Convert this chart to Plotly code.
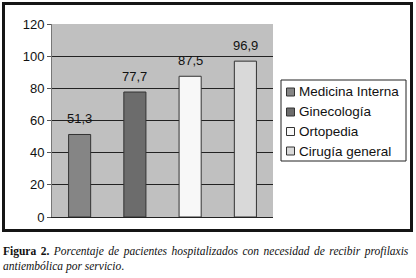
import plotly.graph_objects as go

categories = ["Medicina Interna", "Ginecología", "Ortopedia", "Cirugía general"]
values = [51.3, 77.7, 87.5, 96.9]
labels = ["51,3", "77,7", "87,5", "96,9"]
colors = ["#858585", "#6c6c6c", "#f8f8f8", "#d9d9d9"]

W, H = 416, 278
L, R, T, B = 52, 273, 24, 217
def px(x): return x / W
def py(y): return 1 - y / H

fig = go.Figure()
for c, v, col in zip(categories, values, colors):
    fig.add_trace(go.Bar(
        x=[c], y=[v], name=c,
        marker=dict(color=col, line=dict(color="#333", width=1)),
        width=0.4, showlegend=False,
    ))

annotations = []
for c, v, t in zip(categories, values, labels):
    annotations.append(dict(x=c, y=v, xref="x", yref="y", text=t, showarrow=False,
                            yanchor="bottom", yshift=6,
                            font=dict(family="Liberation Sans, Arial", size=13, color="#111")))

shapes = [dict(type="rect", xref="paper", yref="paper",
               x0=px(3.5), x1=px(411.5), y0=py(230.5), y1=py(3.5),
               line=dict(color="#151515", width=3), fillcolor="rgba(0,0,0,0)",
               layer="above"),
          dict(type="rect", xref="paper", yref="paper",
               x0=px(281), x1=px(406), y0=py(161), y1=py(80),
               line=dict(color="#222", width=1), fillcolor="white", layer="above")]

item_y = [92, 112, 131.5, 151]
for c, col, yy in zip(categories, colors, item_y):
    shapes.append(dict(type="rect", xref="paper", yref="paper",
                       x0=px(286.5), x1=px(294.5), y0=py(yy + 4), y1=py(yy - 4),
                       line=dict(color="#333", width=1), fillcolor=col, layer="above"))
    annotations.append(dict(xref="paper", yref="paper", x=px(297), y=py(yy),
                            xanchor="left", yanchor="middle", showarrow=False, text=c,
                            font=dict(family="Liberation Sans, Arial", size=13.5, color="#111")))

cap_font = dict(family="Liberation Serif, Times New Roman", size=11.5, color="#111")
annotations.append(dict(
    xref="paper", yref="paper", x=px(1), y=py(258.5), xanchor="left", yanchor="middle",
    align="left", showarrow=False, font=cap_font,
    text="<span style=\"word-spacing:1.6px\"><b>Figura 2.</b> <i>Porcentaje de pacientes hospitalizados con necesidad de recibir profilaxis</i></span>"
         "<br><i>antiembólica por servicio</i>."))

fig.update_layout(
    width=W, height=H,
    margin=dict(l=0, r=0, t=0, b=0, autoexpand=False),
    paper_bgcolor="white", plot_bgcolor="#c0c0c0",
    barmode="relative", bargap=0.6,
    font=dict(family="Liberation Sans, Arial", color="#111"),
    xaxis=dict(domain=[px(L), px(R)], showticklabels=False, showgrid=False, zeroline=False,
               showline=True, linecolor="#222", linewidth=1, ticks=""),
    yaxis=dict(domain=[py(B), py(T)], range=[0, 120], dtick=20, showgrid=True, gridcolor="#222",
               gridwidth=1, zeroline=False, showline=True, linecolor="#777",
               ticks="outside", ticklen=4, tickcolor="#555",
               tickfont=dict(family="Liberation Sans, Arial", size=13, color="#111")),
    shapes=shapes,
    annotations=annotations,
)

fig.write_html("out.html", config={"displayModeBar": False},
               post_script="document.body.style.margin='0';document.body.style.overflow='hidden';")
